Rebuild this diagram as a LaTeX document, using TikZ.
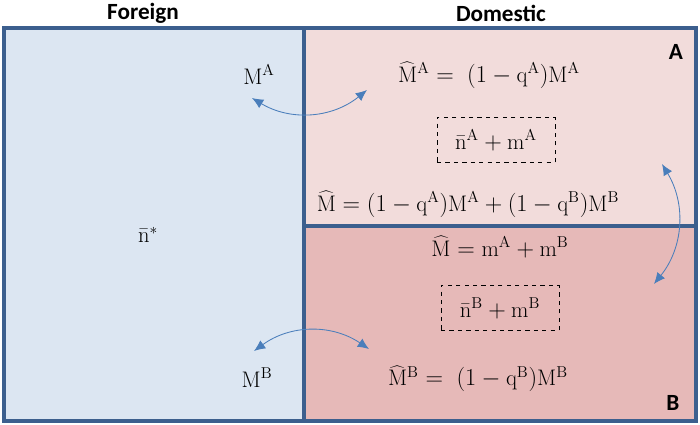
\documentclass[tikz,border=0pt]{standalone}
\usepackage{fontspec}
\setsansfont{Carlito}
\usetikzlibrary{arrows.meta, positioning}

\definecolor{frameblue}{HTML}{3C5F8E}
\definecolor{foreignfill}{HTML}{DCE6F2}
\definecolor{domAfill}{HTML}{F2DCDB}
\definecolor{domBfill}{HTML}{E6B9B8}
\definecolor{arrowblue}{HTML}{4A7EBB}

\newcommand{\Mhat}{\widehat{\mathrm{M}}}
\newcommand{\rmv}[1]{\mathrm{#1}}

\begin{document}
\begin{tikzpicture}[
    x=0.025cm, y=-0.025cm,
    eq/.style={font=\fontsize{16}{18}\selectfont, inner sep=1pt},
    hdr/.style={font=\sffamily\bfseries\fontsize{16.5}{19}\selectfont},
    sumbox/.style={draw, dashed, semithick, minimum width=2.95cm, minimum height=1.12cm, font=\fontsize{16}{18}\selectfont},
    link/.style={{Latex[length=8pt,width=7pt]}-{Latex[length=8pt,width=7pt]}, draw=arrowblue, semithick}
  ]
    \useasboundingbox (0,0) rectangle (700,424);
    % regions
    \fill[foreignfill] (4,28) rectangle (304,421);
    \fill[domAfill] (304,28) rectangle (696,226);
    \fill[domBfill] (304,226) rectangle (696,421);
    \draw[frameblue, line width=2.2pt] (4,28) rectangle (696,421);
    \draw[frameblue, line width=2.2pt] (304,28) -- (304,421);
    \draw[frameblue, line width=2.2pt] (304,226) -- (696,226);

    \node[hdr] (foreign) at (143,13) {Foreign};
    \node[hdr] (domestic) at (501,13) {Domestic};
    \node[hdr] (regA) at (676,52) {A};
    \node[hdr] (regB) at (673,403) {B};

    % equations
    \node[eq] (nstar) at (148,235) {$\bar{\rmv{n}}^{*}$};
    \node[eq] (MA) at (259,74) {$\rmv{M}^{\rmv{A}}$};
    \node[eq] (MB) at (257,378) {$\rmv{M}^{\rmv{B}}$};
    \node[eq] (MhatA) at (489,75) {$\Mhat^{\rmv{A}} = \;\bigl(1-\rmv{q}^{\rmv{A}}\bigr)\rmv{M}^{\rmv{A}}$};
    \node[eq] (MhatB) at (478,379) {$\Mhat^{\rmv{B}} = \;\bigl(1-\rmv{q}^{\rmv{B}}\bigr)\rmv{M}^{\rmv{B}}$};
    \node[eq] (Mtot) at (468,204) {$\Mhat = \bigl(1-\rmv{q}^{\rmv{A}}\bigr)\rmv{M}^{\rmv{A}} + \bigl(1-\rmv{q}^{\rmv{B}}\bigr)\rmv{M}^{\rmv{B}}$};
    \node[eq] (Msum) at (500,247) {$\Mhat = \rmv{m}^{\rmv{A}} + \rmv{m}^{\rmv{B}}$};
    \node[sumbox] (sumA) at (496,140) {$\bar{\rmv{n}}^{\rmv{A}} + \rmv{m}^{\rmv{A}}$};
    \node[sumbox] (sumB) at (500,308) {$\bar{\rmv{n}}^{\rmv{B}} + \rmv{m}^{\rmv{B}}$};

    % flows
    \coordinate (tA1) at (252,98);
    \coordinate (tA2) at (367,90);
    \coordinate (tB1) at (254,351);
    \coordinate (tB2) at (369,349);
    \coordinate (tR1) at (662,164);
    \coordinate (tR2) at (654,284);
    \draw[link] (tA1) to[bend right=35] (tA2);
    \draw[link] (tB1) to[bend left=35] (tB2);
    \draw[link] (tR1) to[bend left=35] (tR2);
  \end{tikzpicture}
\end{document}
